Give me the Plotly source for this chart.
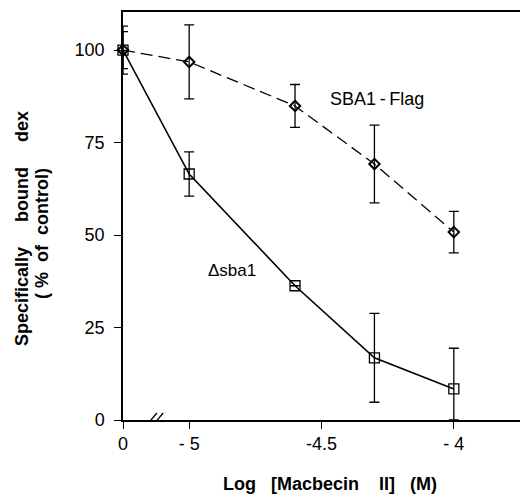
import plotly.graph_objects as go

# Concentrations (log M); the control point sits on the broken axis at "0"
log_conc = [-5.25, -5.0, -4.6, -4.3, -4.0]
x_tick_vals = [-5.25, -5.0, -4.5, -4.0]
x_tick_text = ["0", "- 5", "-4.5", "- 4"]
y_tick_vals = [0, 25, 50, 75, 100]

# Specifically bound dex (% of control)
sba1_flag = [100, 96.8, 84.9, 69.2, 50.8]
sba1_flag_err = [6.5, 10.0, 5.8, 10.5, 5.6]

delta_sba1 = [100, 66.5, 36.3, 16.8, 8.4]
delta_sba1_err_plus = [5.0, 6.0, 0.0, 12.0, 11.0]
delta_sba1_err_minus = [5.0, 6.0, 0.0, 12.0, 8.4]

FONT = "Liberation Sans, Arial, sans-serif"
INK = "#000000"
nb = "\u00a0"

fig = go.Figure()

fig.add_trace(go.Scatter(
    x=log_conc, y=sba1_flag, mode="lines+markers", name="SBA1-Flag",
    line=dict(color=INK, width=1.3, dash="12px,6px"),
    marker=dict(symbol="diamond-open", size=8, color=INK, line=dict(width=2, color=INK)),
    error_y=dict(type="data", array=sba1_flag_err, color=INK, thickness=1.3, width=5),
    cliponaxis=False,
))

fig.add_trace(go.Scatter(
    x=log_conc, y=delta_sba1, mode="lines+markers", name="Δsba1",
    line=dict(color=INK, width=1.6),
    marker=dict(symbol="square-open", size=10, color=INK, line=dict(width=1.3, color=INK)),
    error_y=dict(type="data", symmetric=False, array=delta_sba1_err_plus,
                 arrayminus=delta_sba1_err_minus, color=INK, thickness=1.3, width=5),
    cliponaxis=False,
))

# Axis break marks on the x axis
for dx in (0.0, 0.024):
    fig.add_shape(type="line", xref="x", yref="y",
                  x0=-5.167 + dx, y0=-1.9, x1=-5.122 + dx, y1=1.9,
                  line=dict(color=INK, width=1.3))

# Series labels
fig.add_annotation(x=-4.475, y=86.8, text="SBA1\u2009-\u2009Flag", showarrow=False,
                   xanchor="left", yanchor="middle",
                   font=dict(family=FONT, size=18, color=INK))
fig.add_annotation(x=-4.936, y=40.3, text="Δsba1", showarrow=False,
                   xanchor="left", yanchor="middle",
                   font=dict(family=FONT, size=17, color=INK))

# Axis titles
title_font = dict(family=FONT, size=18, color=INK, weight="bold")
fig.add_annotation(
    x=-101 / 397, y=(420 - 228) / 408, xref="paper", yref="paper",
    text=f"Specifically{nb*5}bound{nb*5}dex", textangle=-90, showarrow=False,
    xanchor="center", yanchor="middle", font=title_font,
)
fig.add_annotation(
    x=-81 / 397, y=(420 - 234) / 408, xref="paper", yref="paper",
    text=f"({nb}%{nb*2}of{nb*2}control)", textangle=-90, showarrow=False,
    xanchor="center", yanchor="middle", font=title_font,
)
fig.add_annotation(
    x=(330 - 123) / 397, y=-(484 - 420) / 408, xref="paper", yref="paper",
    text=f"Log{nb*3}[Macbecin{nb*4}II]{nb*3}(M)", showarrow=False,
    xanchor="center", yanchor="middle", font=title_font,
)

fig.update_layout(
    width=520, height=495,
    margin=dict(l=123, r=0, t=12, b=75),
    paper_bgcolor="white", plot_bgcolor="white",
    showlegend=False,
    font=dict(family=FONT, size=18, color=INK),
    xaxis=dict(
        range=[-5.25, -3.75], tickmode="array",
        tickvals=x_tick_vals, ticktext=x_tick_text,
        showline=True, linecolor=INK, linewidth=1.5, mirror=True,
        ticks="outside", ticklen=7, tickwidth=1.3, tickcolor=INK,
        showgrid=False, zeroline=False,
        tickfont=dict(family=FONT, size=18, color=INK),
    ),
    yaxis=dict(
        range=[0, 110.3], tickmode="array", tickvals=y_tick_vals,
        showline=True, linecolor=INK, linewidth=1.5,
        ticks="outside", ticklen=7, tickwidth=1.3, tickcolor=INK,
        ticklabelstandoff=6,
        showgrid=False, zeroline=False,
        tickfont=dict(family=FONT, size=18, color=INK),
    ),
)

fig.write_html("out.html")
